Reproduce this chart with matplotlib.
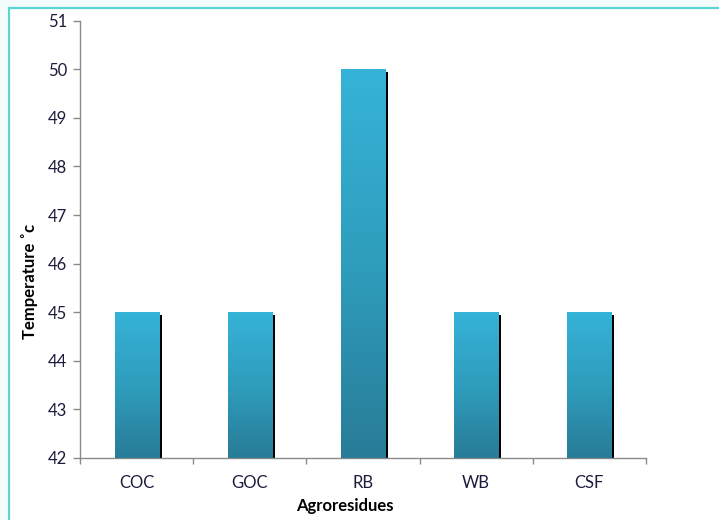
import numpy as np
import matplotlib
matplotlib.use("Agg")
import matplotlib.pyplot as plt
from matplotlib.colors import LinearSegmentedColormap
from matplotlib.patches import Rectangle
from matplotlib.lines import Line2D

categories = ["COC", "GOC", "RB", "WB", "CSF"]
temperatures = [45, 45, 50, 45, 45]
y_ticks = [42, 43, 44, 45, 46, 47, 48, 49, 50, 51]

plt.rcParams["font.family"] = ["Lato", "DejaVu Sans"]

fig = plt.figure(figsize=(7.19, 5.20), dpi=100)
fig.patch.set_facecolor("white")

# light outer strip and cyan frame lines
fig.add_artist(Rectangle((0, 1 - 7 / 520), 1, 7 / 520, transform=fig.transFigure,
                         facecolor="#f4fbfb", edgecolor="none", zorder=0))
fig.add_artist(Rectangle((0, 0), 7 / 719, 1, transform=fig.transFigure,
                         facecolor="#f4fbfb", edgecolor="none", zorder=0))
fig.add_artist(Line2D([8.5 / 719, 8.5 / 719], [0, 1 - 8 / 520], transform=fig.transFigure,
                      color="#5cd6d2", lw=1.6))
fig.add_artist(Line2D([8.5 / 719, 1], [1 - 8 / 520, 1 - 8 / 520], transform=fig.transFigure,
                      color="#5cd6d2", lw=1.6))

ax = fig.add_axes([80 / 719, 1 - 458 / 520, (646 - 80) / 719, (458 - 20.7) / 520])
ymin, ymax = 42, 51
ax.set_ylim(ymin, ymax)
ax.set_xlim(-0.5, len(categories) - 0.5)

x = np.arange(len(categories))
width = 0.39
px_x = 1 / 113.2
px_y = (ymax - ymin) / 437.3

cmap = LinearSegmentedColormap.from_list("barfill", ["#287c97", "#2f9dbd", "#36b3d8"])
grad = np.linspace(0, 1, 256).reshape(-1, 1)

for xi, val in zip(x, temperatures):
    # black drop shadow on the right
    ax.add_patch(Rectangle((xi - width / 2 + 3 * px_x, ymin), width, val - ymin - 3 * px_y,
                           facecolor="black", edgecolor="none", zorder=2))
    bar = Rectangle((xi - width / 2, ymin), width, val - ymin,
                    facecolor="none", edgecolor="none", zorder=3)
    ax.add_patch(bar)
    im = ax.imshow(grad, cmap=cmap, origin="lower", aspect="auto",
                   extent=(xi - width / 2, xi + width / 2, ymin, val), zorder=3)
    im.set_clip_path(bar)

ax.set_xlim(-0.5, len(categories) - 0.5)
ax.set_ylim(ymin, ymax)

ax.set_yticks(y_ticks)
ax.set_yticklabels([str(t) for t in y_ticks])
ax.set_xticks(x)
ax.set_xticklabels(categories)
ax.set_xticks(np.arange(len(categories) + 1) - 0.5, minor=True)

for s in ["top", "right"]:
    ax.spines[s].set_visible(False)
for s in ["left", "bottom"]:
    ax.spines[s].set_color("#8a8a8a")
    ax.spines[s].set_linewidth(1.0)

ax.tick_params(axis="y", direction="out", length=5, width=1, color="#8a8a8a",
               labelsize=12, labelcolor="#1c1c3c", pad=4)
ax.tick_params(axis="x", which="major", length=0, labelsize=12,
               labelcolor="#1c1c3c", pad=12)
ax.tick_params(axis="x", which="minor", direction="out", length=4, width=1,
               color="#8a8a8a")

ax.set_xlabel("Agroresidues", fontsize=12, fontweight="bold", color="black")
ax.set_ylabel("Temperature \u02dac", fontsize=12, fontweight="bold", color="black")
ax.xaxis.set_label_coords((345 - 80) / 566, (458 - 506) / 437.3)
ax.yaxis.set_label_coords((30 - 80) / 566, (458 - 281) / 437.3)
ax.xaxis.label.set_verticalalignment("center")
ax.yaxis.label.set_verticalalignment("center")

fig.savefig("out.png", dpi=100)
